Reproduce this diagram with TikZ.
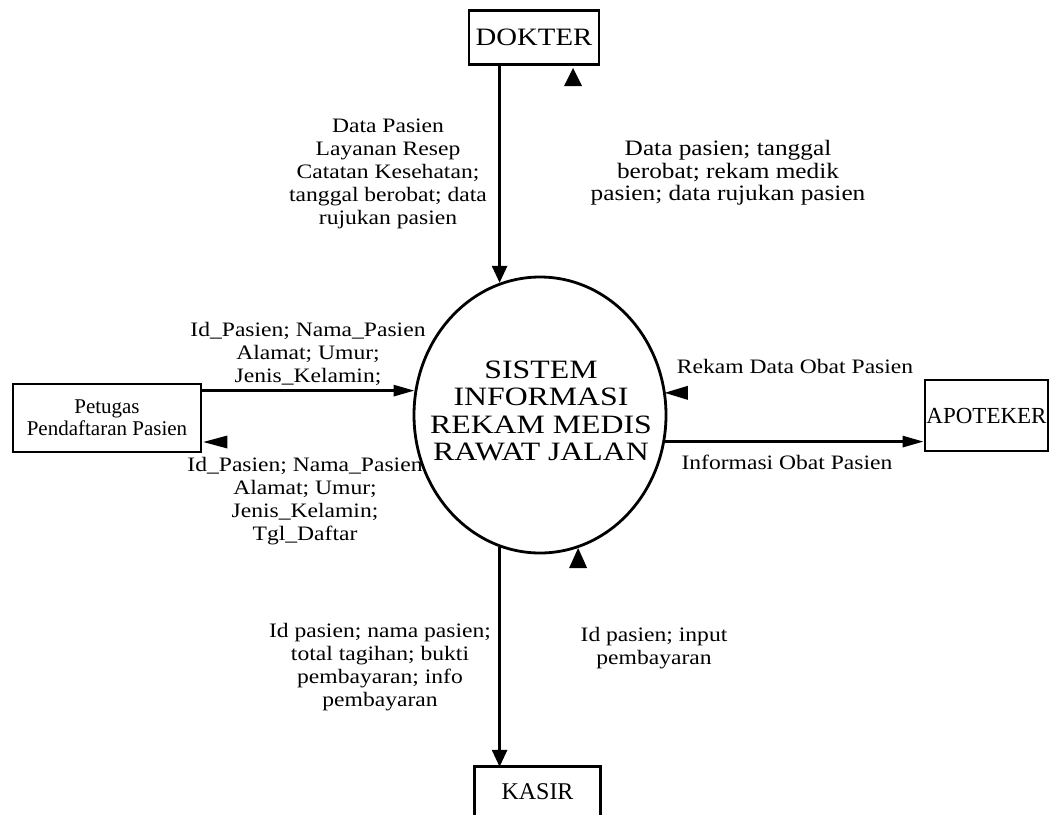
\documentclass[tikz,border=0pt]{standalone}
\usepackage{fontspec}
\setmainfont{Liberation Serif}
\newfontfamily\widefont{Liberation Serif}[FakeStretch=1.15]
\newfontfamily\widerfont{Liberation Serif}[FakeStretch=1.2]
\usetikzlibrary{arrows.meta,shapes.geometric}

\tikzset{
  entity/.style={draw, line width=2.8pt, inner sep=0pt, align=center},
  process/.style={draw, ellipse, line width=2.8pt, inner sep=0pt,
    minimum width=252pt, minimum height=276pt},
  proctext/.style={align=center, inner sep=0pt,
    font=\widerfont\fontsize{26.5}{27.5}\selectfont},
  lbl/.style={align=center, inner sep=0pt, font=\widefont\fontsize{20.5}{23}\selectfont},
  vflow/.style={line width=2.8pt, -{Triangle[length=17pt,width=15pt]}},
  hflow/.style={line width=2.8pt, -{Triangle[length=21pt,width=11pt]}},
  tiphead/.style={fill=black},
}

\begin{document}
\begin{tikzpicture}[x=1pt, y=-1pt]
\useasboundingbox (0,0) rectangle (1049,814);
\clip (0,0) rectangle (1049,814);

% central process
\node[process] (ell) at (540,415) {};
\node[proctext] (ell-text) at (541,411) {SISTEM\\INFORMASI\\REKAM MEDIS\\RAWAT JALAN};

% external entities
\node[entity, minimum width=130pt, minimum height=54pt,
      font=\widefont\fontsize{25}{28}\selectfont] (dokter) at (534,37.5) {DOKTER};
\node[entity, minimum width=188pt, minimum height=68pt,
      font=\fontsize{21}{22}\selectfont] (petugas) at (107,418) {Petugas\\Pendaftaran Pasien};
\node[entity, minimum width=123pt, minimum height=71pt,
      font=\fontsize{23}{25}\selectfont] (apoteker) at (986.5,415.5) {APOTEKER};
\node[inner sep=0pt, minimum width=125pt, minimum height=50pt,
      font=\fontsize{24}{26}\selectfont] (kasir) at (537.5,792) {KASIR};
\draw[line width=2.8pt] (kasir.south west) |- (kasir.north east) -- (kasir.south east);

% DOKTER <-> process
\draw[vflow] (dokter.south -| ell.107.3) -- (ell.107.3);
\coordinate (dtip) at (573,68);
\fill[tiphead] (dtip) -- ++(-9,18) -- ++(18,0) -- cycle;

% Petugas <-> process
\draw[hflow] (petugas.east |- ell.169.6) -- (ell.169.6);
\coordinate (ptip) at (petugas.east |- 0,442);
\fill[tiphead] ([xshift=1pt]ptip) -- ++(24,-6.5) -- ++(0,13) -- cycle;

% APOTEKER <-> process
\coordinate (atip) at (ell.10.4);
\fill[tiphead] ([xshift=-1pt]atip) -- ++(23,-7) -- ++(0,14) -- cycle;
\draw[hflow] (ell.-12.7) -- (ell.-12.7 -| apoteker.west);

% KASIR <-> process
\draw[vflow] (ell.253.6) -- (ell.253.6 |- kasir.north);
\coordinate (ktip) at (ell.-74.45);
\fill[tiphead] (ktip) -- ++(-9,20) -- ++(18,0) -- cycle;

% flow labels
\node[lbl] (l-dok-in) at (388,174) {Data Pasien\\Layanan Resep\\Catatan Kesehatan;\\tanggal berobat; data\\rujukan pasien};
\node[lbl, font=\widefont\fontsize{22}{22.5}\selectfont] (l-dok-out) at (728,173) {Data pasien; tanggal\\berobat; rekam medik\\pasien; data rujukan pasien};
\node[lbl] (l-pet-in) at (308,354) {Id\_Pasien; Nama\_Pasien\\Alamat; Umur;\\Jenis\_Kelamin;};
\node[lbl] (l-pet-out) at (305,501) {Id\_Pasien; Nama\_Pasien\\Alamat; Umur;\\Jenis\_Kelamin;\\Tgl\_Daftar};
\node[lbl] (l-apo-in) at (795,366) {Rekam Data Obat Pasien};
\node[lbl] (l-apo-out) at (787,462) {Informasi Obat Pasien};
\node[lbl] (l-kas-out) at (380,667) {Id pasien; nama pasien;\\total tagihan; bukti\\pembayaran; info\\pembayaran};
\node[lbl] (l-kas-in) at (654,648) {Id pasien; input\\pembayaran};
\end{tikzpicture}
\end{document}
